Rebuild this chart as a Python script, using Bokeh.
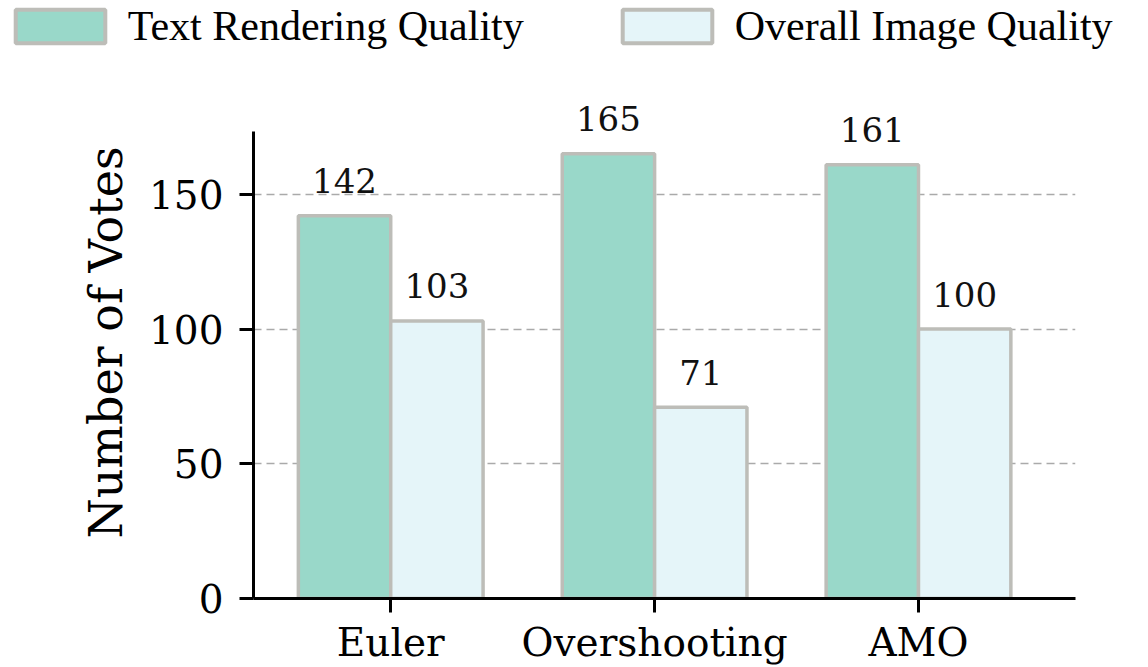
from bokeh.plotting import figure
from bokeh.models import ColumnDataSource, Range1d, FixedTicker, Legend, LegendItem
from bokeh.layouts import column
from bokeh.embed import file_html
from bokeh.resources import INLINE
from bokeh.core.properties import value

methods = ["Euler", "Overshooting", "AMO"]
text_quality = [142, 165, 161]
image_quality = [103, 71, 100]
series_names = ["Text Rendering Quality", "Overall Image Quality"]
y_ticks = [0, 50, 100, 150]

GREEN = "#99d8c9"
LIGHT = "#e5f5f9"
EDGE = "#bdbdb8"

W = 1148
LEG_H = 58
CH_H = 609
y_top = max(text_quality) * 1.05
y_view = 190

xs = list(range(len(methods)))
bw = 0.35
src1 = ColumnDataSource(dict(x=[x - bw / 2 for x in xs], top=text_quality,
                             lab=[str(v) for v in text_quality]))
src2 = ColumnDataSource(dict(x=[x + bw / 2 for x in xs], top=image_quality,
                             lab=[str(v) for v in image_quality]))

# ---------- legend strip (its bar renderers are hidden, only the legend shows) ----------
pl = figure(width=W, height=LEG_H, output_backend="svg", toolbar_location=None,
            x_range=Range1d(0, 1), y_range=Range1d(200, 300),
            min_border=0, x_axis_type=None, y_axis_type=None)
pl.frame_align = False
pl.outline_line_color = None
pl.grid.grid_line_color = None
lr1 = pl.vbar(x="x", top="top", width=bw, source=src1, fill_color=GREEN,
              line_color=EDGE, line_width=4, visible=False)
lr2 = pl.vbar(x="x", top="top", width=bw, source=src2, fill_color=LIGHT,
              line_color=EDGE, line_width=4, visible=False)
legend = Legend(items=[LegendItem(label=series_names[0], renderers=[lr1]),
                       LegendItem(label=series_names[1], renderers=[lr2])],
                location=(3.75, 8), orientation="horizontal",
                glyph_width=112, glyph_height=42, label_height=34,
                label_standoff=12, spacing=87, padding=0, margin=0,
                label_text_font="Liberation Serif", label_text_font_size="42px",
                label_text_color="black", label_text_baseline="middle",
                border_line_color=None, background_fill_alpha=0)
pl.add_layout(legend, "center")

# ---------- chart ----------
frame_bottom = 601 - LEG_H
frame_h = 470 * y_view / y_top
p = figure(width=W, height=CH_H, output_backend="svg", toolbar_location=None,
           x_range=Range1d(-0.52, 2.595), y_range=Range1d(0, y_view),
           min_border_left=253, min_border_top=int(round(frame_bottom - frame_h)),
           min_border_bottom=CH_H - frame_bottom, min_border_right=W - 1075)
p.frame_align = False
p.outline_line_color = None
p.background_fill_color = "white"

r1 = p.vbar(x="x", top="top", width=bw, source=src1, fill_color=GREEN,
            line_color=EDGE, line_width=3.5)
r2 = p.vbar(x="x", top="top", width=bw, source=src2, fill_color=LIGHT,
            line_color=EDGE, line_width=3.5)

for s in (src1, src2):
    p.text(x="x", y="top", text="lab", source=s, text_align="center",
           text_baseline="alphabetic", y_offset=-35,
           text_font=value("DejaVu Serif"), text_font_size="34px", text_color="#111111")

p.xaxis.ticker = FixedTicker(ticks=xs)
p.xaxis.major_label_overrides = {i: m for i, m in enumerate(methods)}
p.yaxis.ticker = FixedTicker(ticks=y_ticks)
p.yaxis.bounds = (0, y_top)
p.yaxis.axis_label = "Number of Votes"
for ax in (p.xaxis, p.yaxis):
    ax.axis_line_width = 3
    ax.axis_line_color = "black"
    ax.major_tick_line_width = 3
    ax.major_tick_line_color = "black"
    ax.major_tick_out = 14
    ax.major_tick_in = 0
    ax.minor_tick_line_color = None
    ax.major_label_text_font = "DejaVu Serif"
    ax.major_label_text_font_size = "39px"
    ax.major_label_text_color = "black"
p.xaxis.major_label_standoff = 7
p.yaxis.major_label_standoff = 16
p.yaxis.axis_label_text_font = "DejaVu Serif"
p.yaxis.axis_label_text_font_size = "46px"
p.yaxis.axis_label_text_font_style = "normal"
p.yaxis.axis_label_text_color = "black"
p.yaxis.axis_label_standoff = 13

p.xgrid.grid_line_color = None
p.ygrid.grid_line_color = "#aaaaaa"
p.ygrid.grid_line_dash = "8 5"
p.ygrid.grid_line_width = 1.6

open("out.html", "w").write(file_html(column(pl, p, spacing=0), INLINE))
